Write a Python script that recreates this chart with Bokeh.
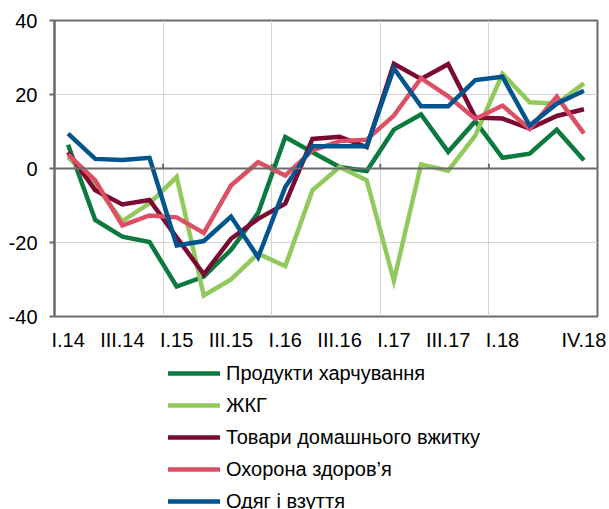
from bokeh.plotting import figure
from bokeh.layouts import column
from bokeh.models import Range1d, FixedTicker, Span, Legend, LegendItem
from bokeh.embed import file_html
from bokeh.resources import INLINE

quarters = ["I.14", "II.14", "III.14", "IV.14",
            "I.15", "II.15", "III.15", "IV.15",
            "I.16", "II.16", "III.16", "IV.16",
            "I.17", "II.17", "III.17", "IV.17",
            "I.18", "II.18", "III.18", "IV.18"]
tick_labels = ["I.14", "III.14", "I.15", "III.15", "I.16", "III.16",
               "I.17", "III.17", "I.18", "IV.18"]
y_ticks = [-40, -20, 0, 20, 40]

food = [6.4, -13.9, -18.4, -19.9, -31.9, -29.2, -22.0, -12.0, 8.5, 4.4,
        0.4, -0.7, 10.5, 14.6, 4.5, 12.8, 2.9, 4.0, 10.5, 2.2]
utilities = [3.1, -4.5, -14.2, -9.4, -2.3, -34.3, -30.0, -23.0, -26.4, -5.9,
             0.4, -3.2, -30.3, 1.1, -0.6, 8.9, 25.6, 17.9, 17.5, 23.0]
household = [4.4, -5.9, -9.7, -8.5, -18.6, -28.6, -19.0, -13.6, -9.5, 8.0,
             8.6, 5.8, 28.3, 24.2, 28.2, 13.8, 13.5, 10.8, 14.2, 16.0]
health = [3.8, -3.2, -15.4, -12.7, -13.2, -17.4, -4.6, 1.7, -1.9, 4.9,
          7.4, 7.8, 14.3, 24.4, 19.5, 13.4, 17.0, 10.7, 19.4, 9.5]
clothing = [9.4, 2.6, 2.3, 2.9, -20.8, -19.6, -13.0, -24.0, -5.0, 6.0,
            6.0, 6.0, 27.1, 16.8, 16.8, 23.9, 24.8, 11.6, 17.5, 21.0]

series_names = ["Продукти харчування", "ЖКГ", "Товари домашнього вжитку",
                "Охорона здоров’я", "Одяг і взуття"]
series_values = [food, utilities, household, health, clothing]
series_colors = ["#0b7a3e", "#92c95c", "#7a0a33", "#dc4f65", "#00558f"]

FONT = "Liberation Sans"
AXIS_GRAY = "#6b6b6b"
GRID_GRAY = "#d4d4d4"
LINE_W = 4.5

xs = [i + 0.5 for i in range(len(quarters))]
year_bounds = [i for i, q in enumerate(quarters) if q.startswith("I.") and i > 0]

p = figure(width=609, height=356, output_backend="svg", toolbar_location=None,
           x_range=Range1d(0, len(quarters)), y_range=Range1d(-40, 40),
           min_border_left=54, min_border_right=12, min_border_top=20,
           min_border_bottom=40, frame_align=False)
p.background_fill_color = "white"
p.border_fill_color = "white"
p.outline_line_color = AXIS_GRAY
p.outline_line_width = 2

# grid
p.xgrid.ticker = FixedTicker(ticks=year_bounds)
p.ygrid.ticker = FixedTicker(ticks=y_ticks)
p.xgrid.grid_line_color = GRID_GRAY
p.ygrid.grid_line_color = GRID_GRAY
p.xgrid.grid_line_width = 1
p.ygrid.grid_line_width = 1

# x axis (labels at bottom)
tick_pos = [quarters.index(t) + 0.5 for t in tick_labels]
p.xaxis.ticker = FixedTicker(ticks=tick_pos)
p.xaxis.major_label_overrides = {pos: lab for pos, lab in zip(tick_pos, tick_labels)}
p.xaxis.axis_line_color = None
p.xaxis.major_tick_line_color = None
p.xaxis.minor_tick_line_color = None
p.xaxis.major_tick_out = 0
p.xaxis.major_tick_in = 0
p.xaxis.major_label_standoff = 12
p.xaxis.major_label_text_font = FONT
p.xaxis.major_label_text_font_size = "20px"
p.xaxis.major_label_text_color = "black"

# y axis
p.yaxis.ticker = FixedTicker(ticks=y_ticks)
p.yaxis.major_label_overrides = {t: str(t) for t in y_ticks}
p.yaxis.axis_line_color = AXIS_GRAY
p.yaxis.axis_line_width = 2
p.yaxis.major_tick_line_color = AXIS_GRAY
p.yaxis.major_tick_line_width = 2
p.yaxis.major_tick_out = 5
p.yaxis.major_tick_in = 0
p.yaxis.minor_tick_line_color = None
p.yaxis.major_label_standoff = 12
p.yaxis.major_label_text_font = FONT
p.yaxis.major_label_text_font_size = "20px"
p.yaxis.major_label_text_color = "black"

# zero line with small year ticks
p.add_layout(Span(location=0, dimension="width", line_color=AXIS_GRAY, line_width=2))
p.segment(x0=year_bounds, y0=[0] * len(year_bounds), x1=year_bounds,
          y1=[1.3] * len(year_bounds), line_color=AXIS_GRAY, line_width=2)

for vals, col in zip(series_values, series_colors):
    p.line(xs, vals, line_color=col, line_width=LINE_W, line_join="miter")

# legend panel below the chart (its own canvas, cut at the bottom like the original)
LEG_H = 153
pl = figure(width=609, height=LEG_H, output_backend="svg", toolbar_location=None,
            x_range=Range1d(-3, -2), y_range=Range1d(-3, -2),
            x_axis_location=None, y_axis_location=None,
            min_border_left=0, min_border_right=0, min_border_top=0,
            min_border_bottom=0, frame_align=False)
pl.outline_line_color = None
pl.grid.visible = False
pl.background_fill_color = "white"
pl.border_fill_color = "white"

items = []
for name, vals, col in zip(series_names, series_values, series_colors):
    r = pl.line(xs, vals, line_color=col, line_width=LINE_W, line_cap="round")
    items.append(LegendItem(label=name, renderers=[r]))

ROW = 32
legend = Legend(items=items, location=(168, LEG_H - ROW * len(items) - 1),
                orientation="vertical",
                glyph_width=52, glyph_height=ROW, label_height=ROW,
                label_standoff=6, spacing=0, padding=0, margin=0,
                border_line_color=None, background_fill_alpha=0,
                label_text_font=FONT, label_text_font_size="20px",
                label_text_color="black")
pl.add_layout(legend, "center")

layout = column(p, pl, spacing=0)
open("out.html", "w").write(file_html(layout, INLINE))
